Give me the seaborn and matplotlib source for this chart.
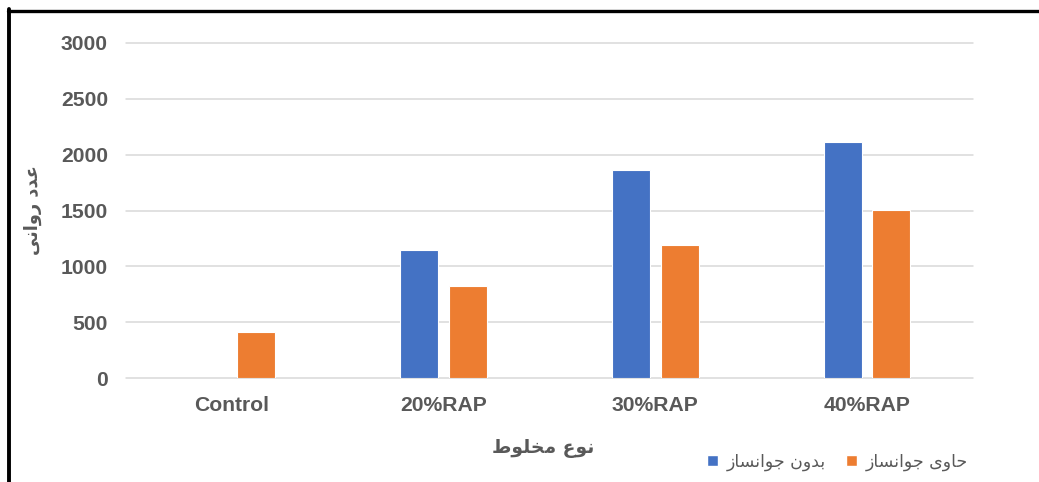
import numpy as np
import pandas as pd
import matplotlib
matplotlib.use("Agg")
import matplotlib.pyplot as plt
from matplotlib.lines import Line2D
from matplotlib.patches import Patch
import seaborn as sns

# ---------------------------------------------------------------------------
# Data
# ---------------------------------------------------------------------------
categories = ["Control", "20%RAP", "30%RAP", "40%RAP"]
without_rejuvenator = [np.nan, 1150, 1860, 2110]   # no blue bar for Control
with_rejuvenator = [410, 820, 1190, 1505]
series_names = ["بدون جوانساز", "حاوی جوانساز"]
y_ticks = [0, 500, 1000, 1500, 2000, 2500, 3000]
x_title = "نوع مخلوط"
y_title = "عدد روانی"

# ---------------------------------------------------------------------------
# Style
# ---------------------------------------------------------------------------
BLUE = "#4472C4"
ORANGE = "#ED7D31"
TEXT_GREY = "#595959"
GRID_GREY = "#D9D9D9"
LATIN = ["Liberation Sans", "DejaVu Sans"]
ARABIC = ["DejaVu Sans"]

# matplotlib does no Arabic shaping, so pick presentation forms by hand:
# (isolated, final, initial, medial); right-joining letters only have two.
_FORMS = {
    "ا": (0xFE8D, 0xFE8E),
    "ب": (0xFE8F, 0xFE90, 0xFE91, 0xFE92),
    "ج": (0xFE9D, 0xFE9E, 0xFE9F, 0xFEA0),
    "ح": (0xFEA1, 0xFEA2, 0xFEA3, 0xFEA4),
    "خ": (0xFEA5, 0xFEA6, 0xFEA7, 0xFEA8),
    "د": (0xFEA9, 0xFEAA),
    "ر": (0xFEAD, 0xFEAE),
    "ز": (0xFEAF, 0xFEB0),
    "س": (0xFEB1, 0xFEB2, 0xFEB3, 0xFEB4),
    "ط": (0xFEC1, 0xFEC2, 0xFEC3, 0xFEC4),
    "ع": (0xFEC9, 0xFECA, 0xFECB, 0xFECC),
    "ل": (0xFEDD, 0xFEDE, 0xFEDF, 0xFEE0),
    "م": (0xFEE1, 0xFEE2, 0xFEE3, 0xFEE4),
    "ن": (0xFEE5, 0xFEE6, 0xFEE7, 0xFEE8),
    "و": (0xFEED, 0xFEEE),
    "\u06cc": (0xFEEF, 0xFEF0, 0xFEF3, 0xFEF4),
    "\u064a": (0xFEEF, 0xFEF0, 0xFEF3, 0xFEF4),
}


def shape(text):
    out = []
    for i, ch in enumerate(text):
        forms = _FORMS.get(ch)
        if forms is None:
            out.append(ch)
            continue
        prev = text[i - 1] if i > 0 else ""
        nxt = text[i + 1] if i + 1 < len(text) else ""
        joins_prev = len(_FORMS.get(prev, ())) == 4
        joins_next = len(forms) == 4 and nxt in _FORMS
        if joins_prev and joins_next:
            idx = 3
        elif joins_next:
            idx = 2
        elif joins_prev:
            idx = 1
        else:
            idx = 0
        out.append(chr(forms[idx]))
    return "".join(reversed(out))   # drawn left to right, so reverse


def main():
    sns.set_style("white")
    plt.rcParams["font.family"] = LATIN

    n = len(categories)
    df = pd.DataFrame({
        "category": categories * 2,
        "value": without_rejuvenator + with_rejuvenator,
        "series": [series_names[0]] * n + [series_names[1]] * n,
    })

    fig = plt.figure(figsize=(10.39, 4.82), dpi=100)
    ax = fig.add_axes([126 / 1039, 104 / 482, 847 / 1039, 335 / 482])

    sns.barplot(
        data=df, x="category", y="value", hue="series",
        order=categories, hue_order=series_names,
        palette=[BLUE, ORANGE], saturation=1, width=0.458, gap=0.22,
        edgecolor="white", linewidth=0.8, errorbar=None,
        legend=False, ax=ax, zorder=3,
    )

    ax.set_ylim(0, 3000)
    ax.set_xlim(-0.5, n - 0.5)
    ax.set_yticks(y_ticks)
    ax.grid(axis="y", color=GRID_GREY, linewidth=1.1, zorder=0)
    for gl in ax.get_ygridlines():
        gl.set_clip_on(False)
    ax.set_axisbelow(True)
    sns.despine(ax=ax, left=True, bottom=True)

    ax.tick_params(axis="both", length=0, labelsize=15.2, labelcolor=TEXT_GREY)
    ax.tick_params(axis="y", pad=13)
    ax.tick_params(axis="x", pad=13)
    for lbl in ax.get_xticklabels() + ax.get_yticklabels():
        lbl.set_fontweight("bold")

    ax.set_xlabel(shape(x_title), fontsize=13.5, fontweight="bold",
                  color=TEXT_GREY, family=ARABIC, va="center")
    ax.xaxis.set_label_coords(0.492, -0.209)
    ax.set_ylabel(shape(y_title), fontsize=12.8, fontweight="bold",
                  color=TEXT_GREY, family=ARABIC, va="center")
    ax.yaxis.set_label_coords(-0.11, 0.5)

    handles = [Patch(facecolor=BLUE), Patch(facecolor=ORANGE)]
    fig.legend(
        handles, [shape(s) for s in series_names],
        loc="center", bbox_to_anchor=(0.806, 0.041), ncol=2, frameon=False,
        prop={"family": ARABIC, "size": 12.5}, labelcolor=TEXT_GREY,
        handlelength=0.6, handleheight=0.6, handletextpad=0.5,
        columnspacing=1.2,
    )

    # black frame on the left and top edges, as in the source figure
    fig.add_artist(Line2D([9 / 1039, 9 / 1039], [0, 1 - 9 / 482],
                          transform=fig.transFigure, color="black", linewidth=2.8))
    fig.add_artist(Line2D([7.5 / 1039, 1], [1 - 10.5 / 482, 1 - 10.5 / 482],
                          transform=fig.transFigure, color="black", linewidth=2.4))

    fig.savefig("out.png", dpi=100, facecolor="white")


if __name__ == "__main__":
    main()
